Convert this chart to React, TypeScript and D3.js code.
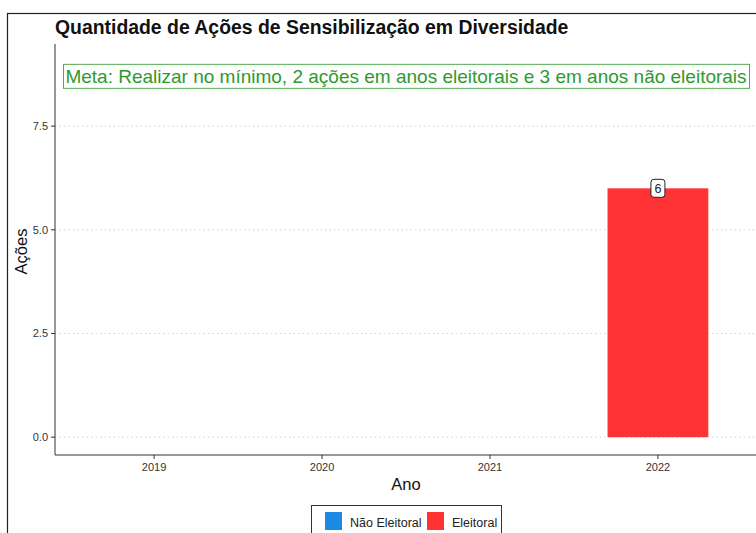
import React from 'react';
import * as d3 from 'd3';

const anos = ['2019', '2020', '2021', '2022'];
const acoes = [0, 0, 0, 6];
const tipos = ['Não Eleitoral', 'Eleitoral', 'Não Eleitoral', 'Eleitoral'];
const yTicks = [0, 2.5, 5, 7.5];
const legendaTipos = ['Não Eleitoral', 'Eleitoral'];
const meta = 'Meta: Realizar no mínimo, 2 ações em anos eleitorais e 3 em anos não eleitorais';
const metaValor = 8.7;

const W = 756;
const H = 533;
const FONT = '"Liberation Sans", Arial, sans-serif';
const cores = d3.scaleOrdinal<string, string>().domain(legendaTipos).range(['#1E88E5', '#FF3333']);

export default function App() {
  // painel (a imagem original está cortada à direita e embaixo)
  const left = 55;
  const right = 757;
  const top = 44;
  const bottom = 455;

  const x = d3.scaleBand().domain(anos).range([left, right]).paddingInner(0.4).paddingOuter(0.29);
  const y = d3.scaleLinear().domain([-0.43, 9.48]).range([bottom, top]);
  const barW = x.bandwidth();

  return (
    <div style={{ position: 'fixed', left: 0, top: 0, width: W, height: H, overflow: 'hidden', background: '#fff' }}>
      <svg width={W} height={H} style={{ display: 'block', fontFamily: FONT }}>
        <rect x={7.5} y={13.5} width={W + 10} height={H + 10} fill="#fff" stroke="#222" strokeWidth={1.2} />

        <text x={55} y={34} fontSize={19.4} fontWeight="bold" fill="#111">
          Quantidade de Ações de Sensibilização em Diversidade
        </text>

        {/* grade */}
        {yTicks.map(t => (
          <line key={t} x1={left} x2={right} y1={y(t)} y2={y(t)}
            stroke="#d0d0d0" strokeWidth={1} strokeDasharray="1.5,3" />
        ))}

        {/* barras */}
        {anos.map((a, i) => acoes[i] > 0 && (
          <rect key={a} x={x(a)} y={y(acoes[i])} width={barW} height={y(0) - y(acoes[i])}
            fill={cores(tipos[i])} />
        ))}

        {/* rótulos */}
        {anos.map((a, i) => acoes[i] > 0 && (
          <g key={'l' + a} transform={`translate(${(x(a) as number) + barW / 2},${y(acoes[i])})`}>
            <rect x={-7} y={-9} width={14} height={18} rx={3} fill="#fff" stroke="#222" strokeWidth={1} />
            <text y={4.5} textAnchor="middle" fontSize={12.5} fill="#222">{acoes[i]}</text>
          </g>
        ))}

        {/* meta */}
        <rect x={63.5} y={y(metaValor) - 12} width={686} height={24} fill="#fff" stroke="#55aa55" strokeWidth={1} />
        <text x={406} y={y(metaValor) + 6.5} textAnchor="middle" fontSize={19} fill="#2e9a2e">{meta}</text>

        {/* eixos */}
        <line x1={left} x2={left} y1={top} y2={bottom} stroke="#555" strokeWidth={1.2} />
        <line x1={left} x2={right} y1={bottom} y2={bottom} stroke="#333" strokeWidth={1.2} />
        {yTicks.map(t => (
          <g key={'t' + t}>
            <line x1={left - 4} x2={left} y1={y(t)} y2={y(t)} stroke="#333" />
            <text x={left - 7} y={y(t) + 4} textAnchor="end" fontSize={11} fill="#333">{d3.format('.1f')(t)}</text>
          </g>
        ))}
        {anos.map(a => {
          const cx = (x(a) as number) + barW / 2;
          return (
            <g key={'x' + a}>
              <line x1={cx} x2={cx} y1={bottom} y2={bottom + 4} stroke="#333" />
              <text x={cx} y={bottom + 16} textAnchor="middle" fontSize={11} fill="#333">{a}</text>
            </g>
          );
        })}

        <text x={406} y={490} textAnchor="middle" fontSize={16.5} fill="#111">Ano</text>
        <text transform={`translate(27,${(top + bottom) / 2 + 2}) rotate(-90)`} textAnchor="middle" fontSize={16.5} fill="#111">Ações</text>

        {/* legenda */}
        <rect x={311.5} y={505.5} width={190} height={40} fill="#fff" stroke="#333" strokeWidth={1} />
        {legendaTipos.map((t, i) => {
          const lx = i === 0 ? 325 : 427;
          return (
            <g key={t}>
              <rect x={lx} y={512} width={17} height={18} fill={cores(t)} />
              <text x={lx + 25} y={527} fontSize={12.5} fill="#222">{t}</text>
            </g>
          );
        })}
      </svg>
    </div>
  );
}
